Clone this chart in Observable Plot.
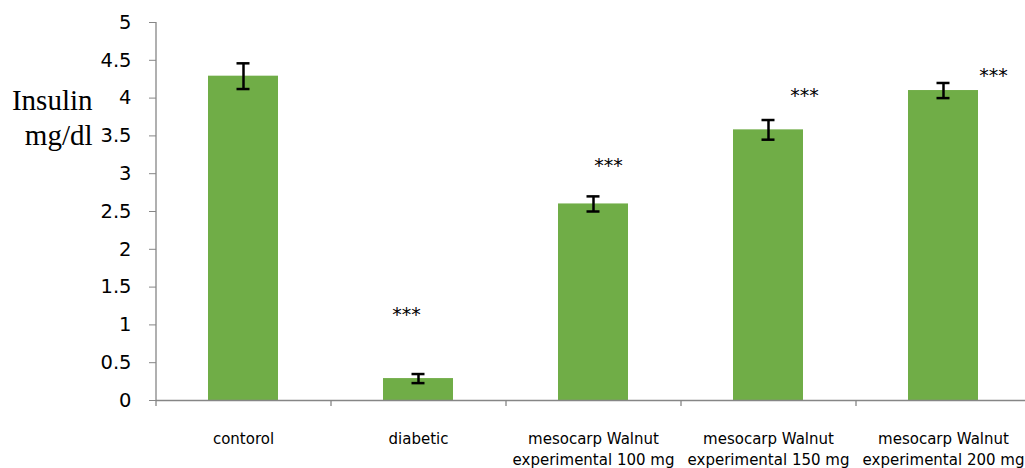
<!DOCTYPE html>
<html><head><meta charset="utf-8">
<script src="https://cdn.jsdelivr.net/npm/d3@7"></script>
<script src="https://cdn.jsdelivr.net/npm/@observablehq/plot@0.6"></script>
<style>html,body{margin:0;padding:0;background:#fff}</style>
</head><body><div id="chart"></div>
<script>
// ---- data ----
const categories = [
  "contorol",
  "diabetic",
  "mesocarp Walnut\nexperimental 100 mg",
  "mesocarp Walnut\nexperimental 150 mg",
  "mesocarp Walnut\nexperimental 200 mg"
];
const means = [4.29, 0.29, 2.60, 3.58, 4.10];
const errors = [0.17, 0.06, 0.10, 0.13, 0.10];
const starCategories = [categories[1], categories[2], categories[3], categories[4]];
const starHeights = [1.18, 3.15, 4.08, 4.34];
const starLabel = "***";
const yTicks = [0, 0.5, 1, 1.5, 2, 2.5, 3, 3.5, 4, 4.5, 5];
const yLabel = "Insulin\nmg/dl";

// ---- layout / style ----
const W = 1025, H = 468;
const x0 = 156, x1 = 1031;
const step = (x1 - x0) / categories.length;
const axisGray = "#868686";
const barColor = "#70AD47";
const sans = "DejaVu Sans, sans-serif";
const starDx = [-12, 15, 36, 50];

const rows = categories.map((c, i) => ({c, v: means[i], lo: means[i] - errors[i], hi: means[i] + errors[i]}));
const stars = starCategories.map((c, i) => ({c, y: starHeights[i]}));

const chart = Plot.plot({
  width: W, height: H,
  marginTop: 22, marginBottom: 68, marginLeft: 156, marginRight: 0,
  style: {background: "#fff", overflow: "visible"},
  x: {domain: categories, range: [x0, x1], paddingInner: 0.6, paddingOuter: 0.3, axis: null},
  y: {domain: [0, 5], axis: null},
  marks: [
    Plot.barY(rows, {x: "c", y: "v", fill: barColor}),
    Plot.ruleY([0], {stroke: axisGray, strokeWidth: 1.3}),
    Plot.ruleX([categories[0]], {x: d => d, y1: 0, y2: 5, dx: -step / 2, insetTop: 6, stroke: axisGray, strokeWidth: 1.3}),
    Plot.ruleX(categories.slice(1), {x: d => d, y1: 0, y2: 0, dx: -step / 2, insetTop: 6, stroke: axisGray, strokeWidth: 1.3}),
    Plot.axisY({ticks: yTicks, tickSize: 7, tickPadding: 18, fontSize: 19.5, fontFamily: sans,
      stroke: axisGray, fill: "black", tickFormat: d => String(d)}),
    Plot.ruleX(rows, {x: "c", y1: "lo", y2: "hi", stroke: "black", strokeWidth: 2.5}),
    Plot.tickY(rows, {x: "c", y: "lo", stroke: "black", strokeWidth: 2.5, insetLeft: 28.5, insetRight: 28.5}),
    Plot.tickY(rows, {x: "c", y: "hi", stroke: "black", strokeWidth: 2.5, insetLeft: 28.5, insetRight: 28.5}),
    ...stars.map((s, i) => Plot.text([s], {x: "c", y: "y", text: () => starLabel, dx: starDx[i], dy: 4,
      fontSize: 19, fontFamily: sans, fill: "black", lineAnchor: "middle"})),
    Plot.text(categories, {x: d => d, text: d => d, frameAnchor: "bottom", lineAnchor: "top", dy: 29,
      fontSize: 15, lineHeight: 1.4, fontFamily: sans, fill: "black"}),
    Plot.text([yLabel], {text: d => d, frameAnchor: "top-left", dx: -64, dy: 62, textAnchor: "end",
      lineAnchor: "top", fontSize: 29, lineHeight: 1.22, fontFamily: "Liberation Serif, serif", fill: "black"})
  ]
});
document.getElementById("chart").appendChild(chart);
</script>
</body></html>
